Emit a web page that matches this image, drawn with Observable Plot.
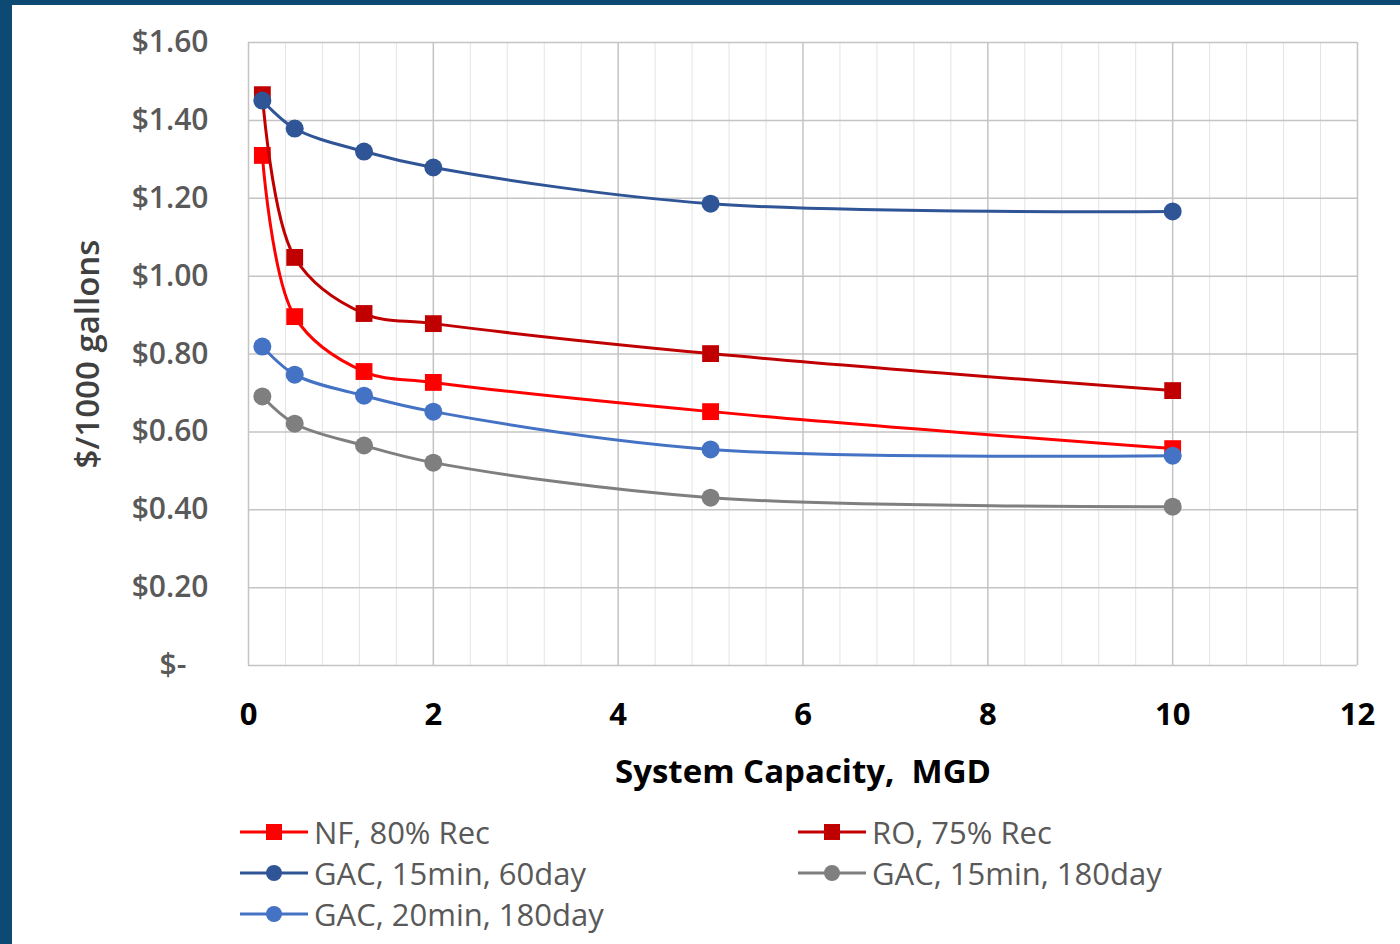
<!DOCTYPE html>
<html>
<head>
<meta charset="utf-8">
<script src="https://cdn.jsdelivr.net/npm/d3@7"></script>
<script src="https://cdn.jsdelivr.net/npm/@observablehq/plot@0.6"></script>
<style>
  html, body { margin: 0; padding: 0; background: #0c4a73; }
  #panel { position: absolute; left: 12px; top: 5px; width: 1388px; height: 939px; background: #ffffff; font-family: "Open Sans", "Noto Sans", sans-serif; }
  #legend { position: absolute; left: 228px; top: 806px; display: grid; grid-template-columns: 558px 420px; row-gap: 0px; }
  .item { display: flex; align-items: center; height: 41px; font-size: 31px; color: #595959; white-space: nowrap; }
  .item svg { margin-right: 6px; flex: none; }
</style>
</head>
<body>
<div id="panel"><div id="chart"></div><div id="legend"></div></div>
<script>
// System capacity (MGD)
const capacity = [0.15, 0.5, 1.25, 2, 5, 10];
// $/1000 gallons per treatment
const nfRec80 = [1.31, 0.896, 0.755, 0.727, 0.652, 0.557];
const roRec75 = [1.466, 1.048, 0.904, 0.878, 0.801, 0.706];
const gac15min60day = [1.451, 1.379, 1.32, 1.279, 1.186, 1.166];
const gac15min180day = [0.691, 0.621, 0.565, 0.521, 0.431, 0.408];
const gac20min180day = [0.819, 0.747, 0.693, 0.652, 0.555, 0.539];

const seriesNames = ["NF, 80% Rec", "RO, 75% Rec", "GAC, 15min, 60day", "GAC, 15min, 180day", "GAC, 20min, 180day"];
const seriesValues = [nfRec80, roRec75, gac15min60day, gac15min180day, gac20min180day];
const seriesColors = ["#ff0000", "#c00000", "#2f5597", "#7f7f7f", "#4472c4"];
const seriesSymbols = ["square", "square", "circle", "circle", "circle"];

const yTicks = [0, 0.2, 0.4, 0.6, 0.8, 1.0, 1.2, 1.4, 1.6];
const xTicks = [0, 2, 4, 6, 8, 10, 12];
const xMinorTicks = d3.range(0, 61).map(i => i * 0.2).filter((v, i) => i % 2 === 0 && i % 10 !== 0);

const rows = [];
seriesNames.forEach((name, i) => {
  capacity.forEach((c, j) => rows.push({ x: c, y: seriesValues[i][j], series: name }));
});

const fmtY = d => d === 0 ? "$-\u2007\u2009" : "$" + d.toFixed(2);

const marks = [
  Plot.ruleX(xMinorTicks, { stroke: "#e4e4e4", strokeWidth: 1 }),
  Plot.ruleY(yTicks, { stroke: "#c4c4c4", strokeWidth: 1.5 }),
  Plot.ruleX(xTicks, { stroke: "#c4c4c4", strokeWidth: 1.5 }),
  Plot.axisY(yTicks, { tickSize: 0, tickPadding: 40, tickFormat: fmtY, fontSize: 30, fontWeight: 600, fill: "#595959", label: null }),
  Plot.axisX(xTicks, { tickSize: 0, tickPadding: 37, fontSize: 31, fontWeight: "bold", fill: "#000000", label: null }),
  Plot.text(["System Capacity,\u00a0 MGD"], { frameAnchor: "bottom", lineAnchor: "middle", dy: 107, fontSize: 33, fontWeight: "bold", fill: "#000000" }),
  Plot.text(["$/1000 gallons"], { frameAnchor: "left", textAnchor: "middle", lineAnchor: "middle", dx: -160, rotate: -90, fontSize: 33, fontWeight: 600, fill: "#404040" })
];
seriesNames.forEach((name, i) => {
  const data = rows.filter(r => r.series === name);
  marks.push(Plot.line(data, { x: "x", y: "y", stroke: seriesColors[i], strokeWidth: 3, curve: "catmull-rom" }));
  marks.push(Plot.dot(data, { x: "x", y: "y", fill: seriesColors[i], stroke: "none", symbol: seriesSymbols[i], r: seriesSymbols[i] === "square" ? 9.5 : 9 }));
});

const chart = Plot.plot({
  width: 1388,
  height: 800,
  marginLeft: 236,
  marginRight: 43,
  marginTop: 37,
  marginBottom: 140,
  style: { fontFamily: "'Open Sans', 'Noto Sans', sans-serif", background: "transparent", overflow: "visible" },
  x: { domain: [0, 12] },
  y: { domain: [0, 1.6] },
  marks
});
document.getElementById("chart").appendChild(chart);

// Legend
const legend = document.getElementById("legend");
seriesNames.forEach((name, i) => {
  const item = document.createElement("div");
  item.className = "item";
  const sym = seriesSymbols[i] === "square"
    ? `<rect x="26" y="2" width="16" height="16" fill="${seriesColors[i]}"/>`
    : `<circle cx="34" cy="10" r="8" fill="${seriesColors[i]}"/>`;
  item.innerHTML = `<svg width="68" height="20"><line x1="0" x2="68" y1="10" y2="10" stroke="${seriesColors[i]}" stroke-width="3"/>${sym}</svg><span>${name}</span>`;
  legend.appendChild(item);
});
</script>
</body>
</html>
